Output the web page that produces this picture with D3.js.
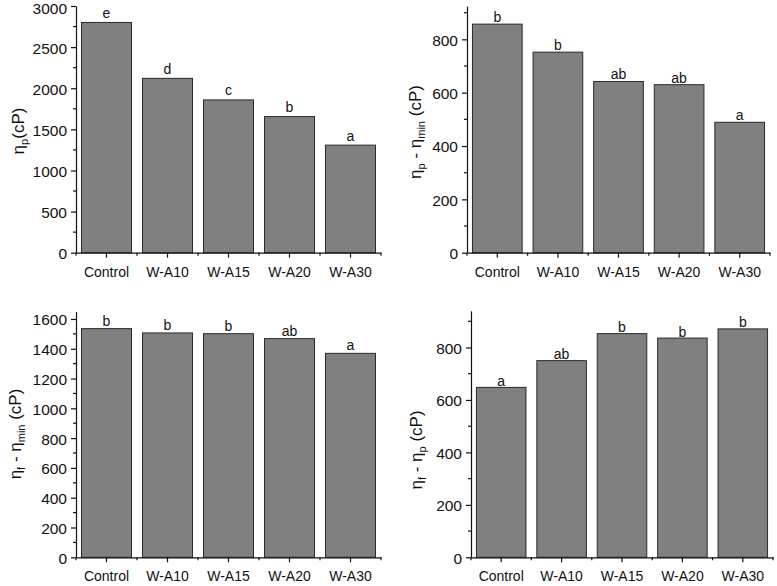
<!DOCTYPE html>
<html>
<head>
<meta charset="utf-8">
<script src="https://cdn.jsdelivr.net/npm/d3@7/dist/d3.min.js"></script>
<style>
  html, body { margin: 0; padding: 0; background: #fff; }
  svg { display: block; font-family: "Liberation Sans", Arial, sans-serif; }
</style>
</head>
<body>
<svg id="chart" width="777" height="586"></svg>
<script>
// ---- data ----
const categories = ["Control", "W-A10", "W-A15", "W-A20", "W-A30"];

const etaPeak = [2800, 2120, 1858, 1655, 1308];
const etaPeakLetters = ["e", "d", "c", "b", "a"];
const etaPeakTicks = [0, 500, 1000, 1500, 2000, 2500, 3000];

const breakdown = [857, 752, 642, 630, 489];
const breakdownLetters = ["b", "b", "ab", "ab", "a"];
const breakdownTicks = [0, 200, 400, 600, 800];

const finalMinusMin = [1535, 1506, 1501, 1468, 1369];
const finalMinusMinLetters = ["b", "b", "b", "ab", "a"];
const finalMinusMinTicks = [0, 200, 400, 600, 800, 1000, 1200, 1400, 1600];

const setback = [648, 750, 853, 836, 871];
const setbackLetters = ["a", "ab", "b", "b", "b"];
const setbackTicks = [0, 200, 400, 600, 800];

// ---- layout (positions/styles only) ----
const panels = [
  { values: etaPeak, letters: etaPeakLetters, ticks: etaPeakTicks, minorStep: 250, yMax: 3000,
    x0: 76, x1: 381, yTop: 6, yBot: 252.7, letterGap: 4.5,
    title: [["η", 0], ["p", 1], ["(cP)", 0]], titleX: 24, titleY: 131 },
  { values: breakdown, letters: breakdownLetters, ticks: breakdownTicks, minorStep: 100, yMax: 925,
    x0: 467, x1: 770, yTop: 6, yBot: 252.7, letterGap: 2,
    title: [["η", 0], ["p", 1], [" - η", 0], ["min", 1], [" (cP)", 0]], titleX: 421, titleY: 132 },
  { values: finalMinusMin, letters: finalMinusMinLetters, ticks: finalMinusMinTicks, minorStep: 100, yMax: 1650,
    x0: 76, x1: 381, yTop: 311.5, yBot: 557.3, letterGap: 3,
    title: [["η", 0], ["f", 1], [" - η", 0], ["min", 1], [" (cP)", 0]], titleX: 21, titleY: 434 },
  { values: setback, letters: setbackLetters, ticks: setbackTicks, minorStep: 100, yMax: 940,
    x0: 471, x1: 773, yTop: 310.8, yBot: 557.3, letterGap: 1.5,
    title: [["η", 0], ["f", 1], [" - η", 0], ["p", 1], [" (cP)", 0]], titleX: 422, titleY: 450 }
];

const svg = d3.select("#chart");

panels.forEach(p => {
  const g = svg.append("g");
  const x = d3.scaleBand().domain(categories).range([p.x0, p.x1])
    .paddingInner(0.18).paddingOuter(0.09);
  const y = d3.scaleLinear().domain([0, p.yMax]).range([p.yBot, p.yTop]);

  // bars
  g.selectAll("rect.bar").data(categories).join("rect")
    .attr("class", "bar")
    .attr("x", d => x(d))
    .attr("width", x.bandwidth())
    .attr("y", (d, i) => y(p.values[i]))
    .attr("height", (d, i) => y(0) - y(p.values[i]))
    .attr("fill", "#808080")
    .attr("stroke", "#2a2a2a")
    .attr("stroke-width", 1);

  // significance letters
  g.selectAll("text.letter").data(categories).join("text")
    .attr("class", "letter")
    .attr("x", d => x(d) + x.bandwidth() / 2)
    .attr("y", (d, i) => y(p.values[i]) - p.letterGap)
    .attr("text-anchor", "middle")
    .attr("font-size", 14)
    .attr("fill", "#111")
    .text((d, i) => p.letters[i]);

  // y axis (major)
  const yAxis = d3.axisLeft(y).tickValues(p.ticks).tickSize(5).tickPadding(4)
    .tickFormat(d3.format("d")).tickSizeOuter(0);
  const ya = g.append("g").attr("transform", `translate(${p.x0},0)`).call(yAxis);
  ya.select(".domain").attr("stroke", "#111").attr("stroke-width", 1.2);
  ya.selectAll(".tick line").attr("stroke", "#111").attr("stroke-width", 1.2);
  ya.selectAll(".tick text").attr("font-size", 15.5).attr("fill", "#111")
    .attr("dy", d => (y(d) < 10 ? "0.48em" : "0.38em"))
    .attr("font-family", "'Liberation Sans', Arial, sans-serif");

  // y axis minor ticks
  const minor = d3.range(p.minorStep, p.yMax + 0.001, p.minorStep)
    .filter(v => !p.ticks.includes(v));
  g.append("g").selectAll("line").data(minor).join("line")
    .attr("x1", p.x0).attr("x2", p.x0 - 3)
    .attr("y1", d => y(d)).attr("y2", d => y(d))
    .attr("stroke", "#111").attr("stroke-width", 1.2);

  // x axis
  const xAxis = d3.axisBottom(x).tickSize(5).tickPadding(9).tickSizeOuter(0);
  const xa = g.append("g").attr("transform", `translate(0,${p.yBot})`).call(xAxis);
  xa.select(".domain").attr("stroke", "#111").attr("stroke-width", 1.2);
  xa.selectAll(".tick line").attr("stroke", "#111").attr("stroke-width", 1.2);
  xa.selectAll(".tick text").attr("font-size", 14).attr("fill", "#111")
    .attr("font-family", "'Liberation Sans', Arial, sans-serif");

  // x minor ticks at band boundaries
  const bounds = categories.map(c => x(c) - x.step() * x.paddingInner() / 2)
    .concat([p.x1]);
  g.append("g").selectAll("line").data(bounds).join("line")
    .attr("x1", d => d).attr("x2", d => d)
    .attr("y1", p.yBot).attr("y2", p.yBot + 3)
    .attr("stroke", "#111").attr("stroke-width", 1.2);

  // y title
  const t = g.append("text")
    .attr("transform", `translate(${p.titleX},${p.titleY}) rotate(-90)`)
    .attr("text-anchor", "middle")
    .attr("font-size", 17)
    .attr("fill", "#111");
  let shifted = false;
  p.title.forEach(([s, sub]) => {
    const ts = t.append("tspan").text(s);
    if (sub && !shifted) { ts.attr("dy", 4).attr("font-size", 11); shifted = true; }
    else if (sub) { ts.attr("font-size", 11); }
    else if (!sub && shifted) { ts.attr("dy", -4); shifted = false; }
  });
});
</script>
</body>
</html>
